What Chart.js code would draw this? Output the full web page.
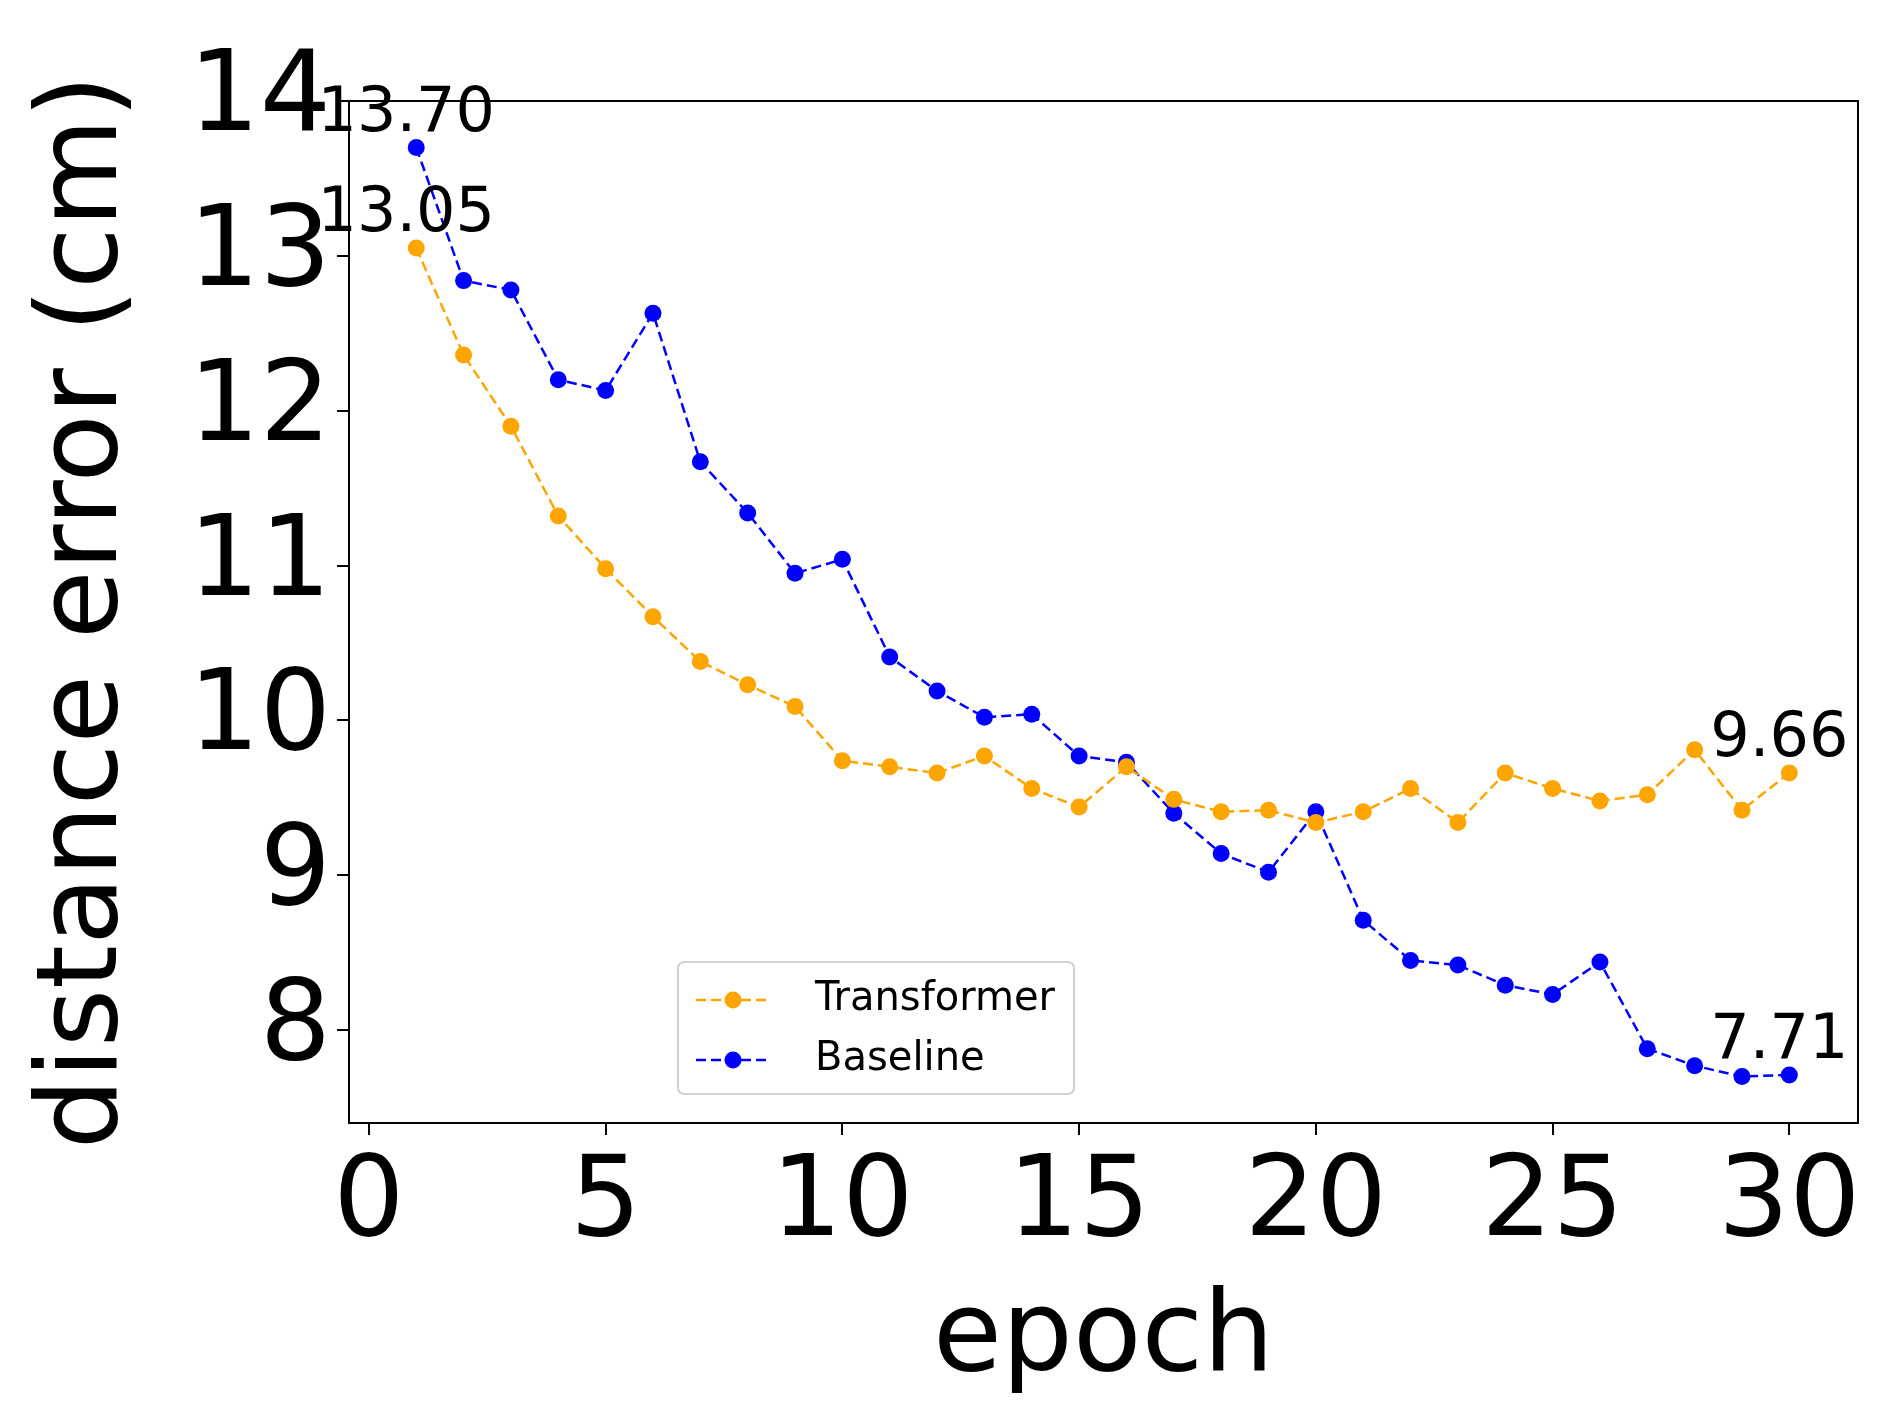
<!DOCTYPE html>
<html>
<head>
<meta charset="utf-8">
<script src="https://cdn.jsdelivr.net/npm/chart.js@4.4.1/dist/chart.umd.min.js"></script>
<style>
  html, body { margin: 0; padding: 0; background: #fff; }
  canvas { display: block; }
</style>
</head>
<body>
<canvas id="chart" width="1886" height="1428"></canvas>
<script>
// data
const epochs = [1,2,3,4,5,6,7,8,9,10,11,12,13,14,15,16,17,18,19,20,21,22,23,24,25,26,27,28,29,30];
const transformer = [13.05,12.36,11.90,11.32,10.98,10.67,10.38,10.23,10.09,9.74,9.70,9.66,9.77,9.56,9.44,9.70,9.49,9.41,9.42,9.34,9.41,9.56,9.34,9.66,9.56,9.48,9.52,9.81,9.42,9.66];
const baseline = [13.70,12.84,12.78,12.20,12.13,12.63,11.67,11.34,10.95,11.04,10.41,10.19,10.02,10.04,9.77,9.73,9.40,9.14,9.02,9.41,8.71,8.45,8.42,8.29,8.23,8.44,7.88,7.77,7.70,7.71];
const xTicks = [0,5,10,15,20,25,30];
const yTicks = [8,9,10,11,12,13,14];

const FONT = "'DejaVu Sans', sans-serif";

function pts(ys) { return epochs.map((x, i) => ({ x: x, y: ys[i] })); }

// frame + first/last value labels + legend
const extras = {
    id: 'extras',
    afterDraw(chart) {
        const ctx = chart.ctx;
        const a = chart.chartArea;
        ctx.save();
        ctx.strokeStyle = '#000';
        ctx.lineWidth = 2;
        ctx.strokeRect(a.left, a.top, a.right - a.left, a.bottom - a.top);

        // value labels at first and last point
        ctx.fillStyle = '#000';
        ctx.font = '62px ' + FONT;
        ctx.textAlign = 'center';
        ctx.textBaseline = 'bottom';
        chart.data.datasets.forEach((ds, di) => {
            const meta = chart.getDatasetMeta(di);
            [0, ds.data.length - 1].forEach(i => {
                const p = meta.data[i];
                ctx.fillText(ds.data[i].y.toFixed(2), p.x - 10, p.y - 2);
            });
        });

        // legend box
        const lx = 678, ly = 962, lw = 396, lh = 132;
        ctx.lineWidth = 2;
        ctx.strokeStyle = '#d0d0d0';
        ctx.fillStyle = 'rgba(255,255,255,0.85)';
        ctx.beginPath();
        ctx.roundRect(lx, ly, lw, lh, 6);
        ctx.fill();
        ctx.stroke();
        ctx.font = '40px ' + FONT;
        ctx.textAlign = 'left';
        ctx.textBaseline = 'middle';
        chart.data.datasets.forEach((ds, i) => {
            const y = ly + 38 + i * 60;
            ctx.strokeStyle = ds.borderColor;
            ctx.lineWidth = 2.5;
            ctx.setLineDash(ds.borderDash);
            ctx.beginPath();
            ctx.moveTo(lx + 18, y);
            ctx.lineTo(lx + 92, y);
            ctx.stroke();
            ctx.setLineDash([]);
            ctx.fillStyle = ds.borderColor;
            ctx.beginPath();
            ctx.arc(lx + 55, y, 8.5, 0, Math.PI * 2);
            ctx.fill();
            ctx.fillStyle = '#000';
            ctx.fillText(ds.label, lx + 137, y);
        });
        ctx.restore();
    }
};

new Chart(document.getElementById('chart'), {
    type: 'line',
    data: {
        datasets: [
            { label: 'Transformer', data: pts(transformer), borderColor: 'orange', backgroundColor: 'orange',
              borderWidth: 2.5, borderDash: [10, 5], pointRadius: 8.5, pointBorderWidth: 0, tension: 0 },
            { label: 'Baseline', data: pts(baseline), borderColor: 'blue', backgroundColor: 'blue',
              borderWidth: 2.5, borderDash: [10, 5], pointRadius: 8.5, pointBorderWidth: 0, tension: 0 }
        ]
    },
    options: {
        responsive: false,
        animation: false,
        devicePixelRatio: 1,
        layout: { padding: { top: 101, right: 28, left: 0, bottom: 0 } },
        plugins: { legend: { display: false }, tooltip: { enabled: false } },
        scales: {
            x: {
                type: 'linear', min: -0.42, max: 31.45,
                afterBuildTicks: s => { s.ticks = xTicks.map(v => ({ value: v })); },
                afterFit: s => { s.height = 305; },
                grid: { drawOnChartArea: false, tickLength: 12, color: '#000', lineWidth: 2 },
                border: { display: true, color: '#000', width: 2 },
                ticks: { color: '#000', font: { family: FONT, size: 112 }, padding: 4, maxRotation: 0 },
                title: { display: true, text: 'epoch', color: '#000', font: { family: FONT, size: 112 }, padding: { top: 0, bottom: 20 } }
            },
            y: {
                min: 7.4, max: 14.0,
                afterBuildTicks: s => { s.ticks = yTicks.map(v => ({ value: v })); },
                afterFit: s => { s.width = 349; },
                grid: { drawOnChartArea: false, tickLength: 12, color: '#000', lineWidth: 2 },
                border: { display: true, color: '#000', width: 2 },
                ticks: { color: '#000', font: { family: FONT, size: 112 }, padding: 6 },
                title: { display: true, text: 'distance error (cm)', color: '#000', font: { family: FONT, size: 112 }, padding: { top: 20, bottom: 0 } }
            }
        }
    },
    plugins: [extras]
});
</script>
</body>
</html>
